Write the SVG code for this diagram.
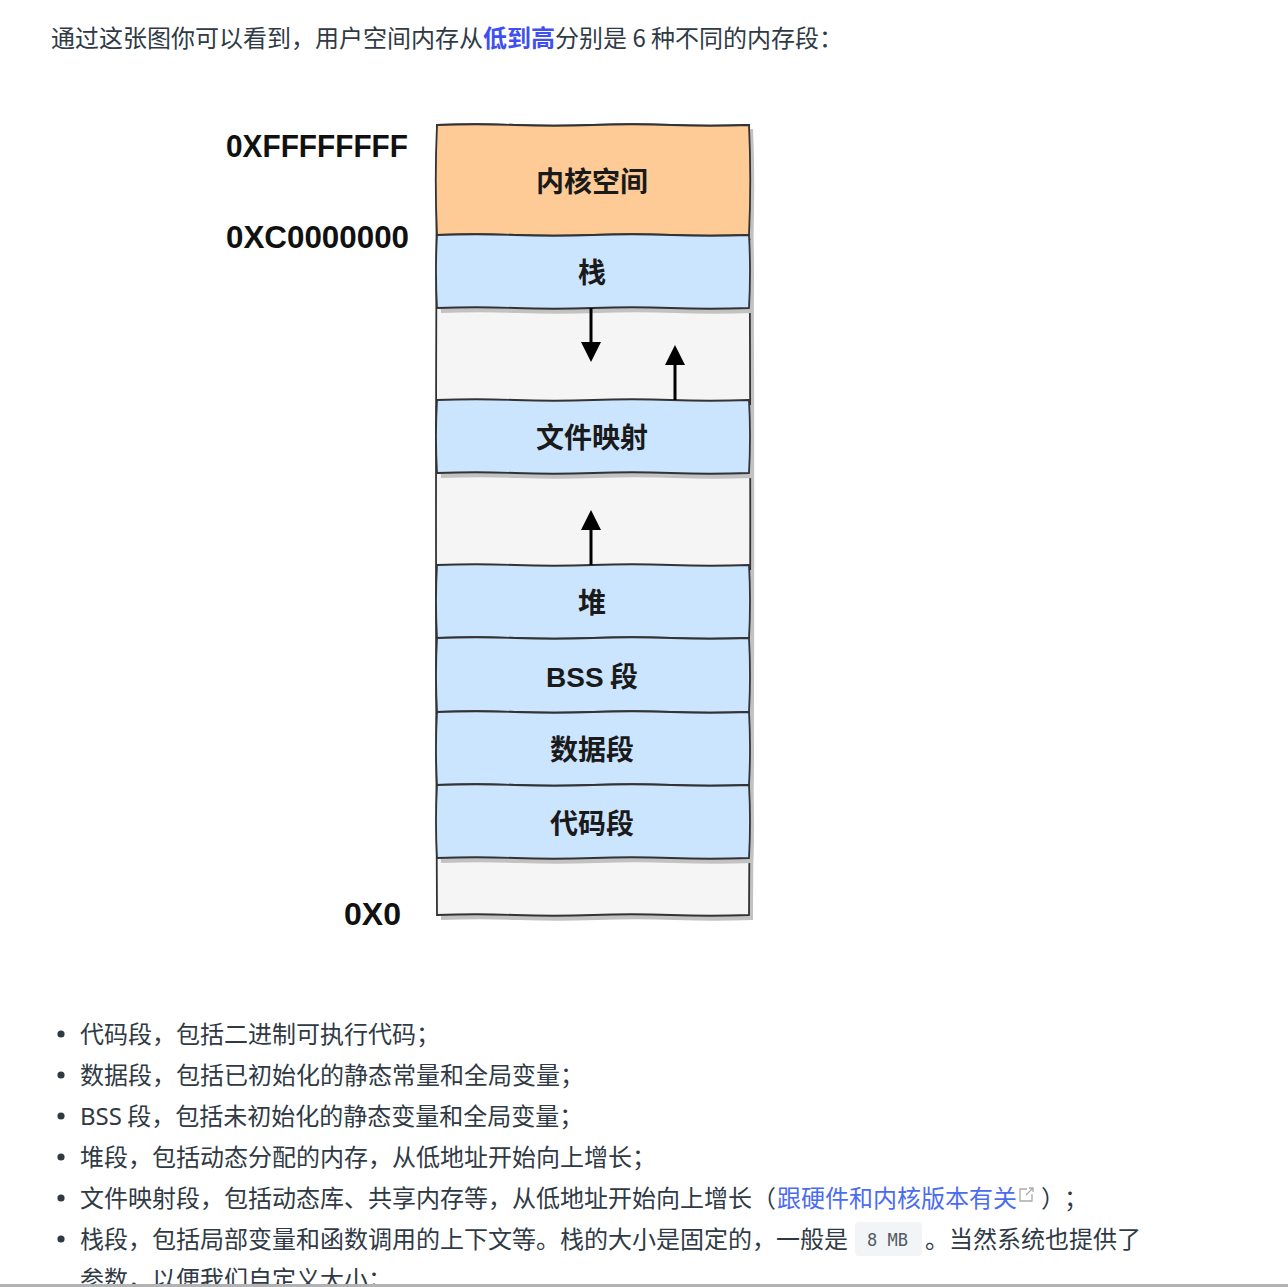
<svg xmlns="http://www.w3.org/2000/svg" width="1288" height="1287" viewBox="0 0 1288 1287">
<defs>
<style>
.body{font-family:"Noto Sans CJK SC","Noto Sans",sans-serif;font-size:24px;fill:#2f3a45}
.addr{font-family:"Liberation Sans","DejaVu Sans",sans-serif;font-weight:bold;font-size:32px;fill:#111}
.lbl{font-family:"Noto Sans CJK SC","Noto Sans",sans-serif;font-weight:bold;font-size:28px;fill:#1a1a1a;text-anchor:middle}
.lat{font-family:"Liberation Sans","DejaVu Sans","Noto Sans CJK SC",sans-serif}
.shadow{fill:#c2c2c2}
.gap{fill:#f5f5f5;stroke:#333;stroke-width:1.8}
.kern{fill:#fecb96;stroke:#333;stroke-width:1.8}
.seg{fill:#cce5ff;stroke:#333;stroke-width:1.8}
.arrow{stroke:#000;stroke-width:3;fill:none}
.dot{fill:#2f3a45}
</style>
<marker id="ah" viewBox="0 0 10 10" refX="0" refY="5" markerWidth="20" markerHeight="21" markerUnits="userSpaceOnUse" orient="auto">
<path d="M0,0 L10,5 L0,10 Z" fill="#000"/>
</marker>
</defs>
<rect width="1288" height="1287" fill="#fff"/>

<text class="body" x="51" y="47">通过这张图你可以看到，用户空间内存从<tspan fill="#3f4ff0" font-weight="bold">低到高</tspan>分别是 6 种不同的内存段：</text>

<g id="column">
<path class="shadow" transform="translate(4,5)" d="M437,125 Q476,123.5 515,125 Q554,126.5 593,125 Q632,123.5 671,125 Q710,126.5 749,125 Q751.5,520 749,915 Q710,916.5 671,915 Q632,913.5 593,915 Q554,916.5 515,915 Q476,913.5 437,915 Q435,520 437,125 Z"/>
<path class="gap" d="M437,125 Q476,123.5 515,125 Q554,126.5 593,125 Q632,123.5 671,125 Q710,126.5 749,125 Q751.5,520 749,915 Q710,916.5 671,915 Q632,913.5 593,915 Q554,916.5 515,915 Q476,913.5 437,915 Q435,520 437,125 Z"/>
</g>

<g id="kernel">
<path class="shadow" transform="translate(4,4)" d="M437,125 Q476,123.5 515,125 Q554,126.5 593,125 Q632,123.5 671,125 Q710,126.5 749,125 Q751.5,180 749,235 Q710,236.5 671,235 Q632,233.5 593,235 Q554,236.5 515,235 Q476,233.5 437,235 Q434.5,180 437,125 Z"/>
<path class="kern" d="M437,125 Q476,123.5 515,125 Q554,126.5 593,125 Q632,123.5 671,125 Q710,126.5 749,125 Q751.5,180 749,235 Q710,236.5 671,235 Q632,233.5 593,235 Q554,236.5 515,235 Q476,233.5 437,235 Q434.5,180 437,125 Z"/>
<text class="lbl" x="592" y="192">内核空间</text>
</g>

<g id="stack">
<path class="shadow" transform="translate(4,5)" d="M437,235 Q476,233.5 515,235 Q554,236.5 593,235 Q632,233.5 671,235 Q710,236.5 749,235 Q751,271 749,308 Q710,309.5 671,308 Q632,306.5 593,308 Q554,309.5 515,308 Q476,306.5 437,308 Q435,271 437,235 Z"/>
<path class="seg" d="M437,235 Q476,233.5 515,235 Q554,236.5 593,235 Q632,233.5 671,235 Q710,236.5 749,235 Q751,271 749,308 Q710,309.5 671,308 Q632,306.5 593,308 Q554,309.5 515,308 Q476,306.5 437,308 Q435,271 437,235 Z"/>
<text class="lbl" x="592" y="283">栈</text>
</g>

<g id="filemap">
<path class="shadow" transform="translate(4,5)" d="M437,400 Q476,398.5 515,400 Q554,401.5 593,400 Q632,398.5 671,400 Q710,401.5 749,400 Q751,436 749,473 Q710,474.5 671,473 Q632,471.5 593,473 Q554,474.5 515,473 Q476,471.5 437,473 Q435,436 437,400 Z"/>
<path class="seg" d="M437,400 Q476,398.5 515,400 Q554,401.5 593,400 Q632,398.5 671,400 Q710,401.5 749,400 Q751,436 749,473 Q710,474.5 671,473 Q632,471.5 593,473 Q554,474.5 515,473 Q476,471.5 437,473 Q435,436 437,400 Z"/>
<text class="lbl" x="592" y="448">文件映射</text>
</g>

<g id="heap">
<path class="shadow" transform="translate(4,5)" d="M437,565 Q476,563.5 515,565 Q554,566.5 593,565 Q632,563.5 671,565 Q710,566.5 749,565 Q751,601 749,638 Q710,639.5 671,638 Q632,636.5 593,638 Q554,639.5 515,638 Q476,636.5 437,638 Q435,601 437,565 Z"/>
<path class="seg" d="M437,565 Q476,563.5 515,565 Q554,566.5 593,565 Q632,563.5 671,565 Q710,566.5 749,565 Q751,601 749,638 Q710,639.5 671,638 Q632,636.5 593,638 Q554,639.5 515,638 Q476,636.5 437,638 Q435,601 437,565 Z"/>
<text class="lbl" x="592" y="613">堆</text>
</g>

<g id="bss">
<path class="shadow" transform="translate(4,5)" d="M437,638 Q476,636.5 515,638 Q554,639.5 593,638 Q632,636.5 671,638 Q710,639.5 749,638 Q751,675 749,712 Q710,713.5 671,712 Q632,710.5 593,712 Q554,713.5 515,712 Q476,710.5 437,712 Q435,675 437,638 Z"/>
<path class="seg" d="M437,638 Q476,636.5 515,638 Q554,639.5 593,638 Q632,636.5 671,638 Q710,639.5 749,638 Q751,675 749,712 Q710,713.5 671,712 Q632,710.5 593,712 Q554,713.5 515,712 Q476,710.5 437,712 Q435,675 437,638 Z"/>
<text class="lbl" x="592" y="687"><tspan class="lat">BSS</tspan> 段</text>
</g>

<g id="data">
<path class="shadow" transform="translate(4,5)" d="M437,712 Q476,710.5 515,712 Q554,713.5 593,712 Q632,710.5 671,712 Q710,713.5 749,712 Q751,748 749,785 Q710,786.5 671,785 Q632,783.5 593,785 Q554,786.5 515,785 Q476,783.5 437,785 Q435,748 437,712 Z"/>
<path class="seg" d="M437,712 Q476,710.5 515,712 Q554,713.5 593,712 Q632,710.5 671,712 Q710,713.5 749,712 Q751,748 749,785 Q710,786.5 671,785 Q632,783.5 593,785 Q554,786.5 515,785 Q476,783.5 437,785 Q435,748 437,712 Z"/>
<text class="lbl" x="592" y="760">数据段</text>
</g>

<g id="code">
<path class="shadow" transform="translate(4,5)" d="M437,785 Q476,783.5 515,785 Q554,786.5 593,785 Q632,783.5 671,785 Q710,786.5 749,785 Q751,821 749,858 Q710,859.5 671,858 Q632,856.5 593,858 Q554,859.5 515,858 Q476,856.5 437,858 Q435,821 437,785 Z"/>
<path class="seg" d="M437,785 Q476,783.5 515,785 Q554,786.5 593,785 Q632,783.5 671,785 Q710,786.5 749,785 Q751,821 749,858 Q710,859.5 671,858 Q632,856.5 593,858 Q554,859.5 515,858 Q476,856.5 437,858 Q435,821 437,785 Z"/>
<text class="lbl" x="592" y="834">代码段</text>
</g>

<g id="connectors">
<line class="arrow" x1="591" y1="308" x2="591" y2="342" marker-end="url(#ah)"/>
<line class="arrow" x1="675" y1="400" x2="675" y2="365" marker-end="url(#ah)"/>
<line class="arrow" x1="591" y1="565" x2="591" y2="530" marker-end="url(#ah)"/>
</g>

<g id="addresses">
<text class="addr" x="226" y="157" textLength="182" lengthAdjust="spacingAndGlyphs">0XFFFFFFFF</text>
<text class="addr" x="226" y="248" textLength="183" lengthAdjust="spacingAndGlyphs">0XC0000000</text>
<text class="addr" x="344" y="925" textLength="57" lengthAdjust="spacingAndGlyphs">0X0</text>
</g>

<g id="list">
<circle class="dot" cx="61" cy="1034" r="3.6"/>
<circle class="dot" cx="61" cy="1075" r="3.6"/>
<circle class="dot" cx="61" cy="1116" r="3.6"/>
<circle class="dot" cx="61" cy="1157" r="3.6"/>
<circle class="dot" cx="61" cy="1198" r="3.6"/>
<circle class="dot" cx="61" cy="1239" r="3.6"/>
<text class="body" x="80" y="1043">代码段，包括二进制可执行代码；</text>
<text class="body" x="80" y="1084">数据段，包括已初始化的静态常量和全局变量；</text>
<text class="body" x="80" y="1125"><tspan font-family="'Noto Sans','Noto Sans CJK SC',sans-serif">BSS</tspan> 段，包括未初始化的静态变量和全局变量；</text>
<text class="body" x="80" y="1166">堆段，包括动态分配的内存，从低地址开始向上增长；</text>
<text class="body" x="80" y="1207">文件映射段，包括动态库、共享内存等，从低地址开始向上增长（</text>
<text class="body" x="777" y="1207" style="fill:#4b6cf0">跟硬件和内核版本有关</text>
<g fill="none" stroke="#aaa" stroke-width="1.3">
<path d="M1027,1189 h-7 v12 h12 v-7"/>
<path d="M1026,1195 L1033,1188 M1029,1188 h4 v4"/>
</g>
<text class="body" x="1041" y="1207">）<tspan x="1064">；</tspan></text>
<text class="body" x="80" y="1248">栈段，包括局部变量和函数调用的上下文等。栈的大小是固定的，一般是</text>
<rect x="855" y="1222" width="67" height="34" rx="4" fill="#f3f4f5"/>
<text x="867" y="1246" font-family="'DejaVu Sans Mono','Liberation Mono',monospace" font-size="17" fill="#4f5b66">8 MB</text>
<text class="body" x="925" y="1248">。当然系统也提供了</text>
<text class="body" x="80" y="1288">参数，以便我们自定义大小；</text>
</g>
<rect x="0" y="1284" width="1288" height="3" fill="#b3b3b3"/>
</svg>
